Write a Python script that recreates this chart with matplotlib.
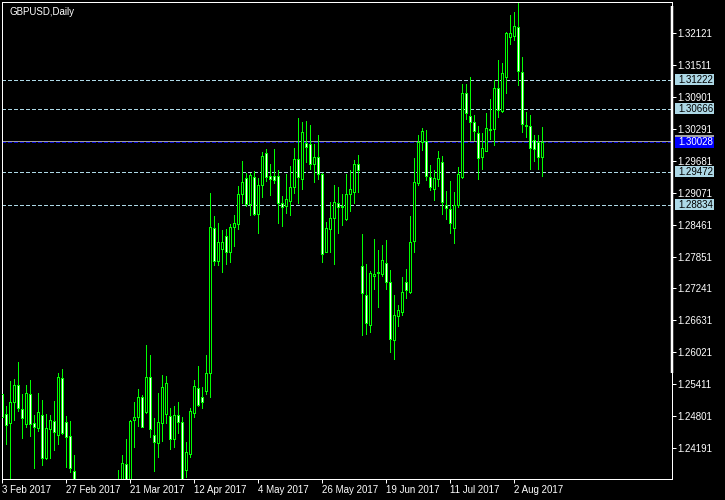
import numpy as np
import matplotlib
matplotlib.use("Agg")
import matplotlib.pyplot as plt
from matplotlib.patches import Rectangle

# ------------------------------------------------------------
# data: GBPUSD daily candles, one row per trading day
# ------------------------------------------------------------
opens = [
    1.25228, 1.24840, 1.24680, 1.25069, 1.25399, 1.24941, 1.24661, 1.25222, 1.24668, 1.24585,
    1.24821, 1.24012, 1.24565, 1.24712, 1.24440, 1.25527, 1.24688, 1.24420, 1.23753, 1.22900,
    1.22850, 1.23000, 1.22550, 1.22000, 1.21650, 1.21700, 1.21900, 1.22250, 1.21400, 1.22700,
    1.23520, 1.23886, 1.23550, 1.24731, 1.24783, 1.25165, 1.24884, 1.25546, 1.24440, 1.24298,
    1.24668, 1.24840, 1.24808, 1.24375, 1.24821, 1.24688, 1.23777, 1.24088, 1.24871, 1.25336,
    1.25165, 1.25290, 1.25622, 1.28389, 1.27771, 1.28000, 1.28242, 1.27943, 1.28408, 1.28465,
    1.29038, 1.29343, 1.28853, 1.29362, 1.28656, 1.29210, 1.29832, 1.29387, 1.29387, 1.29387,
    1.28866, 1.28820, 1.28916, 1.29171, 1.29706, 1.29335, 1.30017, 1.29992, 1.29610, 1.29744,
    1.29419, 1.27943, 1.28381, 1.28580, 1.28877, 1.28824, 1.28561, 1.29038, 1.29076, 1.29610,
    1.27664, 1.27116, 1.26544, 1.27488, 1.27527, 1.27511, 1.27721, 1.27370, 1.26258, 1.26721,
    1.26798, 1.27359, 1.27179, 1.28152, 1.29248, 1.30030, 1.30055, 1.29368, 1.29133, 1.29324,
    1.29654, 1.28834, 1.28752, 1.28389, 1.28834, 1.29374, 1.30965, 1.30532, 1.30412, 1.30202,
    1.29744, 1.29870, 1.30293, 1.30278, 1.31060, 1.30633, 1.31270, 1.32045, 1.32064, 1.32224,
    1.31366, 1.30360, 1.30335, 1.30080, 1.30041, 1.29755,
]
highs = [
    1.25304, 1.24999, 1.25476, 1.25514, 1.25838, 1.25228, 1.25399, 1.25495, 1.24827, 1.25247,
    1.25113, 1.24846, 1.24827, 1.25094, 1.25634, 1.25705, 1.24808, 1.24712, 1.24064, 1.23100,
    1.23200, 1.23150, 1.22700, 1.22150, 1.21900, 1.22150, 1.22500, 1.22400, 1.22900, 1.23777,
    1.24063, 1.24369, 1.24730, 1.25075, 1.25317, 1.25208, 1.26162, 1.25972, 1.24770, 1.25247,
    1.25590, 1.25571, 1.24955, 1.24999, 1.25069, 1.24789, 1.24306, 1.24955, 1.25495, 1.25762,
    1.25355, 1.25972, 1.29063, 1.28624, 1.28484, 1.28357, 1.28376, 1.28471, 1.28643, 1.29196,
    1.29673, 1.29450, 1.29450, 1.29488, 1.29343, 1.29845, 1.29902, 1.29616, 1.29902, 1.29501,
    1.29005, 1.29425, 1.29578, 1.29927, 1.30494, 1.30417, 1.30436, 1.30360, 1.29998, 1.30169,
    1.29438, 1.28504, 1.28885, 1.29215, 1.29171, 1.29044, 1.29425, 1.29501, 1.29692, 1.29788,
    1.28280, 1.27708, 1.27574, 1.28185, 1.27975, 1.28070, 1.28166, 1.27593, 1.27116, 1.26926,
    1.27466, 1.27613, 1.28624, 1.29730, 1.30169, 1.30303, 1.30265, 1.29597, 1.29501, 1.29864,
    1.29769, 1.29101, 1.29292, 1.29082, 1.29553, 1.31142, 1.31142, 1.31270, 1.30551, 1.30341,
    1.30202, 1.30589, 1.30856, 1.31219, 1.31600, 1.31543, 1.32140, 1.32459, 1.32516, 1.32693,
    1.31657, 1.30602, 1.30551, 1.30169, 1.30169, 1.30322,
]
lows = [
    1.24731, 1.24273, 1.23587, 1.24731, 1.24903, 1.24394, 1.24598, 1.24426, 1.23821, 1.24522,
    1.23879, 1.23987, 1.24012, 1.24159, 1.24279, 1.24464, 1.23840, 1.23745, 1.22800, 1.22700,
    1.22500, 1.22500, 1.21900, 1.21350, 1.21350, 1.21400, 1.21800, 1.21100, 1.21100, 1.22550,
    1.23400, 1.23400, 1.23450, 1.24222, 1.24617, 1.24598, 1.24865, 1.24413, 1.23764, 1.24031,
    1.24336, 1.24668, 1.24178, 1.24222, 1.24489, 1.23450, 1.23650, 1.24031, 1.24794, 1.24999,
    1.24966, 1.25228, 1.25165, 1.27689, 1.27689, 1.27561, 1.27714, 1.27752, 1.28057, 1.28381,
    1.28877, 1.28815, 1.28649, 1.28637, 1.28305, 1.28992, 1.29286, 1.29030, 1.29259, 1.28496,
    1.28439, 1.28687, 1.28643, 1.29068, 1.28877, 1.29139, 1.29660, 1.29521, 1.29278, 1.29324,
    1.27752, 1.27937, 1.27943, 1.27702, 1.28305, 1.28452, 1.28547, 1.28719, 1.28877, 1.29087,
    1.26359, 1.26372, 1.26416, 1.27231, 1.26893, 1.27479, 1.27231, 1.26035, 1.25890, 1.26531,
    1.26735, 1.27065, 1.27160, 1.27943, 1.29215, 1.29883, 1.29311, 1.29120, 1.28929, 1.29202,
    1.28668, 1.28561, 1.28305, 1.28114, 1.28801, 1.29355, 1.30469, 1.30074, 1.30074, 1.29330,
    1.29521, 1.29864, 1.30093, 1.29978, 1.30518, 1.30614, 1.30976, 1.31906, 1.31982, 1.31123,
    1.30221, 1.30125, 1.29526, 1.29673, 1.29515, 1.29387,
]
closes = [
    1.24789, 1.24630, 1.25075, 1.25399, 1.24955, 1.24775, 1.25241, 1.24661, 1.24592, 1.24878,
    1.24012, 1.24573, 1.24731, 1.24497, 1.25546, 1.24483, 1.24413, 1.23816, 1.22900, 1.22850,
    1.23000, 1.22550, 1.22000, 1.21650, 1.21700, 1.21900, 1.22250, 1.21400, 1.22700, 1.23520,
    1.23905, 1.23550, 1.24712, 1.24783, 1.25165, 1.24604, 1.25558, 1.24554, 1.24317, 1.24688,
    1.25355, 1.25432, 1.24375, 1.24827, 1.24688, 1.23550, 1.24115, 1.24897, 1.25380, 1.25018,
    1.25081, 1.25622, 1.28408, 1.27771, 1.28122, 1.28122, 1.27943, 1.28408, 1.28484, 1.29038,
    1.29267, 1.28853, 1.29400, 1.28656, 1.29210, 1.29763, 1.29374, 1.29324, 1.29316, 1.28877,
    1.28790, 1.28942, 1.29171, 1.29706, 1.29362, 1.30226, 1.29946, 1.29610, 1.29744, 1.29419,
    1.27893, 1.28389, 1.28580, 1.28885, 1.28801, 1.28805, 1.29038, 1.29133, 1.29610, 1.29501,
    1.27149, 1.26588, 1.27530, 1.27508, 1.27546, 1.27779, 1.27370, 1.26271, 1.26729, 1.26830,
    1.27168, 1.27212, 1.28122, 1.29267, 1.30030, 1.30246, 1.29393, 1.29177, 1.29343, 1.29730,
    1.28897, 1.28782, 1.28484, 1.28839, 1.29419, 1.30965, 1.30583, 1.30412, 1.30246, 1.29725,
    1.29927, 1.30297, 1.30274, 1.31060, 1.30646, 1.31346, 1.32121, 1.32115, 1.32243, 1.31396,
    1.30373, 1.30341, 1.29927, 1.29896, 1.29755, 1.30028,
]

# date labels on the time scale (bar index -> text)
date_bars = [0, 16, 32, 48, 64, 80, 96, 112, 128]
date_labels = ["3 Feb 2017", "27 Feb 2017", "21 Mar 2017", "12 Apr 2017", "4 May 2017",
               "26 May 2017", "19 Jun 2017", "11 Jul 2017", "2 Aug 2017"]

price_ticks = [1.32121, 1.31511, 1.30901, 1.30291, 1.29681, 1.29071, 1.28461,
               1.27851, 1.27241, 1.26631, 1.26021, 1.25411, 1.24801, 1.24191]

level_lines = [1.31222, 1.30666, 1.29472, 1.28834]
bid_price = 1.30028
ask_price = 1.30063

symbol_title = "GBPUSD,Daily"

# ------------------------------------------------------------
# style
# ------------------------------------------------------------
plt.rcParams['font.family'] = ['Liberation Sans', 'DejaVu Sans']
PX = 0.72           # one pixel in points at dpi 100
FG = 'white'
CANDLE = '#00ff00'
LEVEL = '#add8e6'

fig = plt.figure(figsize=(7.25, 5), dpi=100, facecolor='black')
ax = fig.add_axes([2 / 725, 21 / 500, 670 / 725, 477 / 500])
ax.set_facecolor('black')

ax.set_xlim(-0.075, 167.425)
ax.set_ylim(1.23606, 1.32707)

# level lines
for lv in level_lines:
    ax.axhline(lv, color=LEVEL, lw=PX, ls=(0, (4, 2.5)), antialiased=False, zorder=1)
ax.axhline(ask_price, color='#a0a0a0', lw=PX, antialiased=False, zorder=1)
ax.axhline(bid_price, color='#0000d0', lw=PX, ls=(0, (4, 2.5)), antialiased=False, zorder=1)

# candles
idx = np.arange(len(opens))
o = np.array(opens)
h = np.array(highs)
l = np.array(lows)
c = np.array(closes)
ax.vlines(idx, l, h, color=CANDLE, lw=PX, antialiased=False, zorder=2)
fill = ['black' if cc >= oo else 'white' for oo, cc in zip(o, c)]
ax.bar(idx, np.abs(c - o), bottom=np.minimum(o, c), width=0.5,
       color=fill, edgecolor=CANDLE, linewidth=PX, antialiased=False, zorder=3)

# frame
for sp in ax.spines.values():
    sp.set_color(FG)
    sp.set_linewidth(PX)
ax.plot([1, 1], [0.2229, 0.9916], transform=ax.transAxes, color=FG,
        lw=2.5 * PX, solid_capstyle='butt', clip_on=False, zorder=6)

# price scale on the right
ax.yaxis.tick_right()
ax.set_yticks(price_ticks)
ax.set_yticklabels([f"{p:.5f}" for p in price_ticks])
ax.tick_params(axis='y', colors=FG, length=4 * PX, width=PX, pad=1, labelsize=7)

# time scale
ax.set_xticks(date_bars)
ax.set_xticklabels(date_labels, ha='left')
ax.tick_params(axis='x', colors=FG, length=4 * PX, width=PX, pad=1.5, labelsize=7)

# price labels for the levels
ytr = ax.get_yaxis_transform()
box_h = 11 * 0.0001908
box_x = 673 / 670
box_w = 39 / 670


def price_box(price, face, text_color, show_text=True):
    ax.add_patch(Rectangle((box_x, price - box_h / 2), box_w, box_h, transform=ytr,
                           facecolor=face, edgecolor='none', clip_on=False, zorder=7))
    if show_text:
        ax.text(676 / 670, price, f"{price:.5f}", transform=ytr, color=text_color,
                fontsize=7, va='center', ha='left', clip_on=False, zorder=8)


for lv in level_lines:
    price_box(lv, LEVEL, 'black')
price_box(ask_price, '#a0a0a0', 'black', show_text=False)
price_box(bid_price, '#0000ff', 'white')

ax.text(7 / 670, 1 - 10 / 477, symbol_title, transform=ax.transAxes, color=FG,
        fontsize=7, va='center', ha='left')

fig.savefig('out.png', dpi=100, facecolor='black')
